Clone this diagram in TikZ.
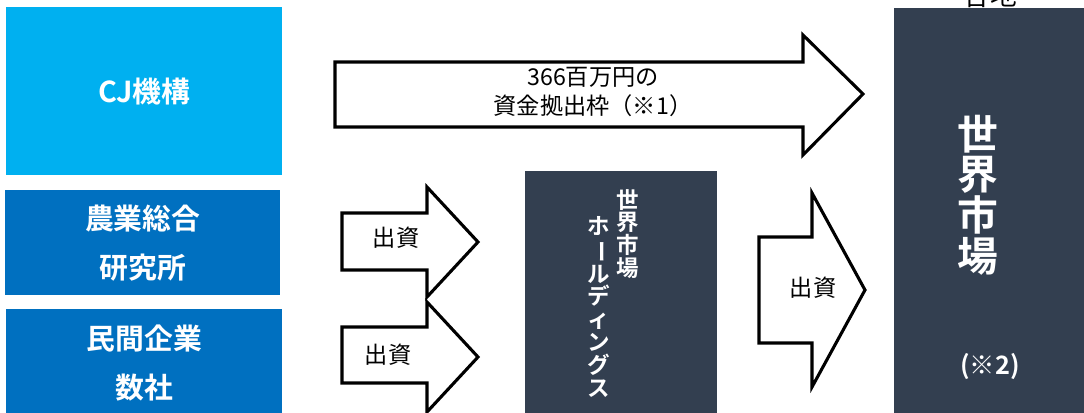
\documentclass[tikz,border=0pt]{standalone}
\usepackage{fontspec}
\usepackage{graphicx}
\setmainfont{Noto Sans CJK JP}[BoldFont={Noto Sans CJK JP Bold}]
\usetikzlibrary{positioning}
\definecolor{cjblue}{HTML}{00B0F0}
\definecolor{orgblue}{HTML}{0070C0}
\definecolor{slate}{HTML}{333F50}

\begin{document}
\begin{tikzpicture}[
    x=0.025cm, y=-0.025cm,
    box/.style={anchor=north west, inner sep=0pt, text=white, align=center,
        font=\bfseries\fontsize{20.5}{35}\selectfont},
    barrow/.style={draw, line width=2.2pt, fill=white},
    lbl/.style={align=center, inner sep=0pt, font=\fontsize{16.5}{21}\selectfont},
    vlbl/.style={align=center, inner sep=0pt, text=white,
        font=\bfseries\fontsize{16}{16.3}\selectfont}
]
\useasboundingbox (0,0) rectangle (1084,413);

% investors
\node[box, fill=cjblue, minimum width=6.9cm, minimum height=4.2cm] (cj) at (6,7) {CJ機構};
\node[box, fill=orgblue, minimum width=6.875cm, minimum height=2.625cm] (nouken) at (5,190) {農業総合\\研究所};
\node[box, fill=orgblue, minimum width=6.9cm, minimum height=2.7cm] (minkan) at (6,309) {民間企業\\数社};

% holding company and market
\node[box, fill=slate, minimum width=4.8cm, minimum height=6.15cm] (holdings) at (525,171) {};
\node[box, fill=slate, minimum width=4.75cm, minimum height=10.25cm] (market) at (894,8) {};

% block arrows
\draw[barrow] (335,62) -- (803,62) -- (803,35) -- (863,94) -- (803,155) -- (803,127) -- (335,127) -- cycle;
\draw[barrow] (342,213) -- (427,213) -- (427,187) -- (478,242) -- (427,297) -- (427,270) -- (342,270) -- cycle;
\draw[barrow] (342,327) -- (427,327) -- (427,302) -- (478,357) -- (427,412) -- (427,383) -- (342,383) -- cycle;
\draw[barrow] (759,237) -- (812,237) -- (812,193) -- (865,290) -- (812,387) -- (812,343) -- (759,343) -- cycle;

\node[lbl] (frame) at (593,92) {366百万円の\\資金拠出枠（※1）};
\node[lbl] (inv1) at (396,238) {出資};
\node[lbl] (inv2) at (388,355) {出資};
\node[lbl] (inv3) at (813,288) {出資};

% vertical labels
\node[vlbl] (hdname) at (628,234) {世\\界\\市\\場};
\node[vlbl] (hdsuffix) at (599,307) {ホ\\\rotatebox[origin=c]{-90}{ー}\\ル\\デ\\ィ\\ン\\グ\\ス};
\node[vlbl, font=\bfseries\fontsize{29}{29}\selectfont] (mkname) at (978,195) {世\\界\\市\\場};
\node[vlbl, font=\bfseries\fontsize{18}{18}\selectfont] (note) at (990,367) {(※2)};
\node[lbl, anchor=south, font=\fontsize{19}{19}\selectfont] (cut) at (990,8) {各地};
\end{tikzpicture}
\end{document}
